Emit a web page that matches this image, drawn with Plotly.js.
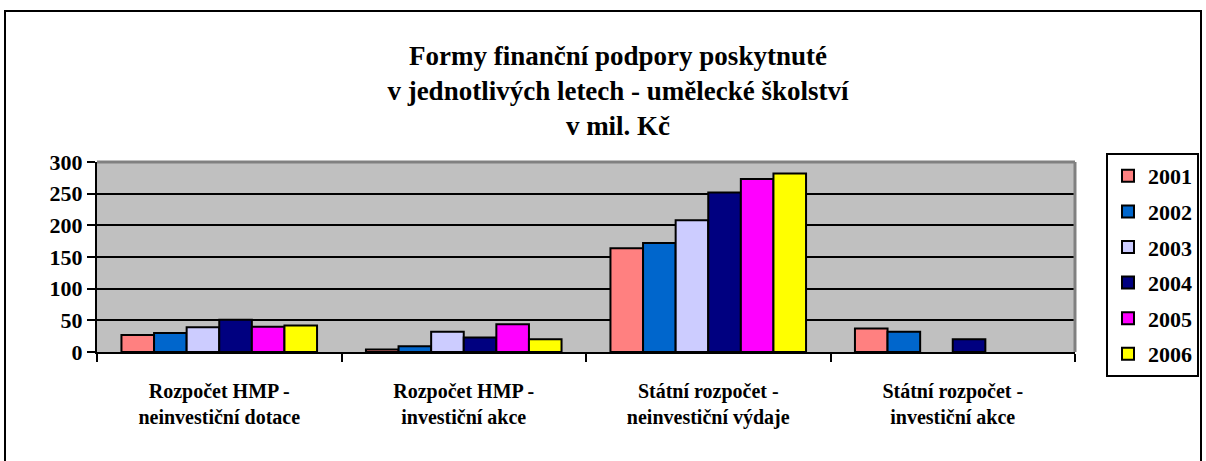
<!DOCTYPE html>
<html>
<head>
<meta charset="utf-8">
<script src="https://cdn.plot.ly/plotly-3.0.1.min.js"></script>
<style>html,body{margin:0;padding:0;background:#fff;}#chart{width:1206px;height:461px;}</style>
</head>
<body>
<div id="chart"></div>
<script>
const categories = [
  "Rozpočet HMP -<br>neinvestiční dotace",
  "Rozpočet HMP -<br>investiční akce",
  "Státní rozpočet -<br>neinvestiční výdaje",
  "Státní rozpočet -<br>investiční akce"
];
const years = ["2001", "2002", "2003", "2004", "2005", "2006"];
const v2001 = [27, 4, 164, 37];
const v2002 = [30, 9, 172, 32];
const v2003 = [39, 32, 208, null];
const v2004 = [51, 23, 252, 20];
const v2005 = [40, 44, 273, null];
const v2006 = [42, 20, 282, null];
const yTicks = [0, 50, 100, 150, 200, 250, 300];

const seriesValues = [v2001, v2002, v2003, v2004, v2005, v2006];
const colors = ["#FF8080", "#0066CC", "#CCCCFF", "#000080", "#FF00FF", "#FFFF00"];
const FONT = "Liberation Serif, Tinos, Times New Roman, Times, DejaVu Serif, serif";

const traces = years.map((y, i) => ({
  type: "bar",
  name: y,
  x: categories,
  y: seriesValues[i],
  legendgroup: y,
  marker: {color: colors[i], line: {color: "#000", width: 2}},
  hoverinfo: "none"
}));

const L = 97, R = 131, T = 162, B = 109, W = 1206, H = 461;
const pw = W - L - R, ph = H - T - B;
const px2x = p => (p - L) / pw;
const py2y = p => (H - B - p) / ph;

const layout = {
  width: W, height: H,
  margin: {l: L, r: R, t: T, b: B, pad: 0, autoexpand: false},
  paper_bgcolor: "#fff",
  plot_bgcolor: "#C0C0C0",
  font: {family: FONT, color: "#000", size: 21, weight: "bold"},
  title: {
    text: "<b>Formy finanční podpory poskytnuté<br>v jednotlivých letech - umělecké školství<br>v mil. Kč</b>",
    font: {family: FONT, size: 27, color: "#000"},
    xref: "container", x: 618 / W, xanchor: "center",
    yref: "container", y: 1 - 65 / H, yanchor: "top"
  },
  barmode: "group",
  bargap: 0.2,
  bargroupgap: 0,
  showlegend: true,
  legend: {
    xref: "container", yref: "container",
    x: 1106 / W, y: 1 - 153 / H, xanchor: "left", yanchor: "top",
    bgcolor: "#fff", bordercolor: "#000", borderwidth: 2,
    font: {family: FONT, size: 22, weight: "bold", color: "#000"},
    tracegroupgap: 4, traceorder: "grouped", maxheight: 400
  },
  xaxis: {
    type: "category",
    showline: true, linecolor: "#000", linewidth: 2,
    ticks: "outside", tickson: "boundaries", ticklen: 8, tickwidth: 2, tickcolor: "#000",
    tickfont: {family: FONT, size: 20, weight: "bold", color: "#000"},
    ticklabelstandoff: 20,
    showgrid: false, zeroline: false, fixedrange: true
  },
  yaxis: {
    range: [0, 300],
    tickvals: yTicks,
    ticktext: yTicks.map(String),
    showline: true, linecolor: "#000", linewidth: 2,
    ticks: "outside", ticklen: 8, tickwidth: 2, tickcolor: "#000",
    tickfont: {family: FONT, size: 22, weight: "bold", color: "#000"},
    showgrid: true, gridcolor: "#000", gridwidth: 2,
    zeroline: false, fixedrange: true
  },
  shapes: [
    {type: "line", xref: "paper", yref: "paper", x0: 0, x1: 1, y0: 1, y1: 1,
     line: {color: "#808080", width: 3}, layer: "above"},
    {type: "line", xref: "paper", yref: "paper", x0: 1, x1: 1, y0: 0, y1: 1,
     line: {color: "#808080", width: 3}, layer: "above"},
    {type: "rect", xref: "paper", yref: "paper",
     x0: px2x(5), x1: px2x(1201), y0: py2y(470), y1: py2y(11),
     line: {color: "#000", width: 2}, fillcolor: "rgba(0,0,0,0)", layer: "below"}
  ]
};

Plotly.newPlot("chart", traces, layout, {displayModeBar: false, staticPlot: true});
</script>
</body>
</html>
